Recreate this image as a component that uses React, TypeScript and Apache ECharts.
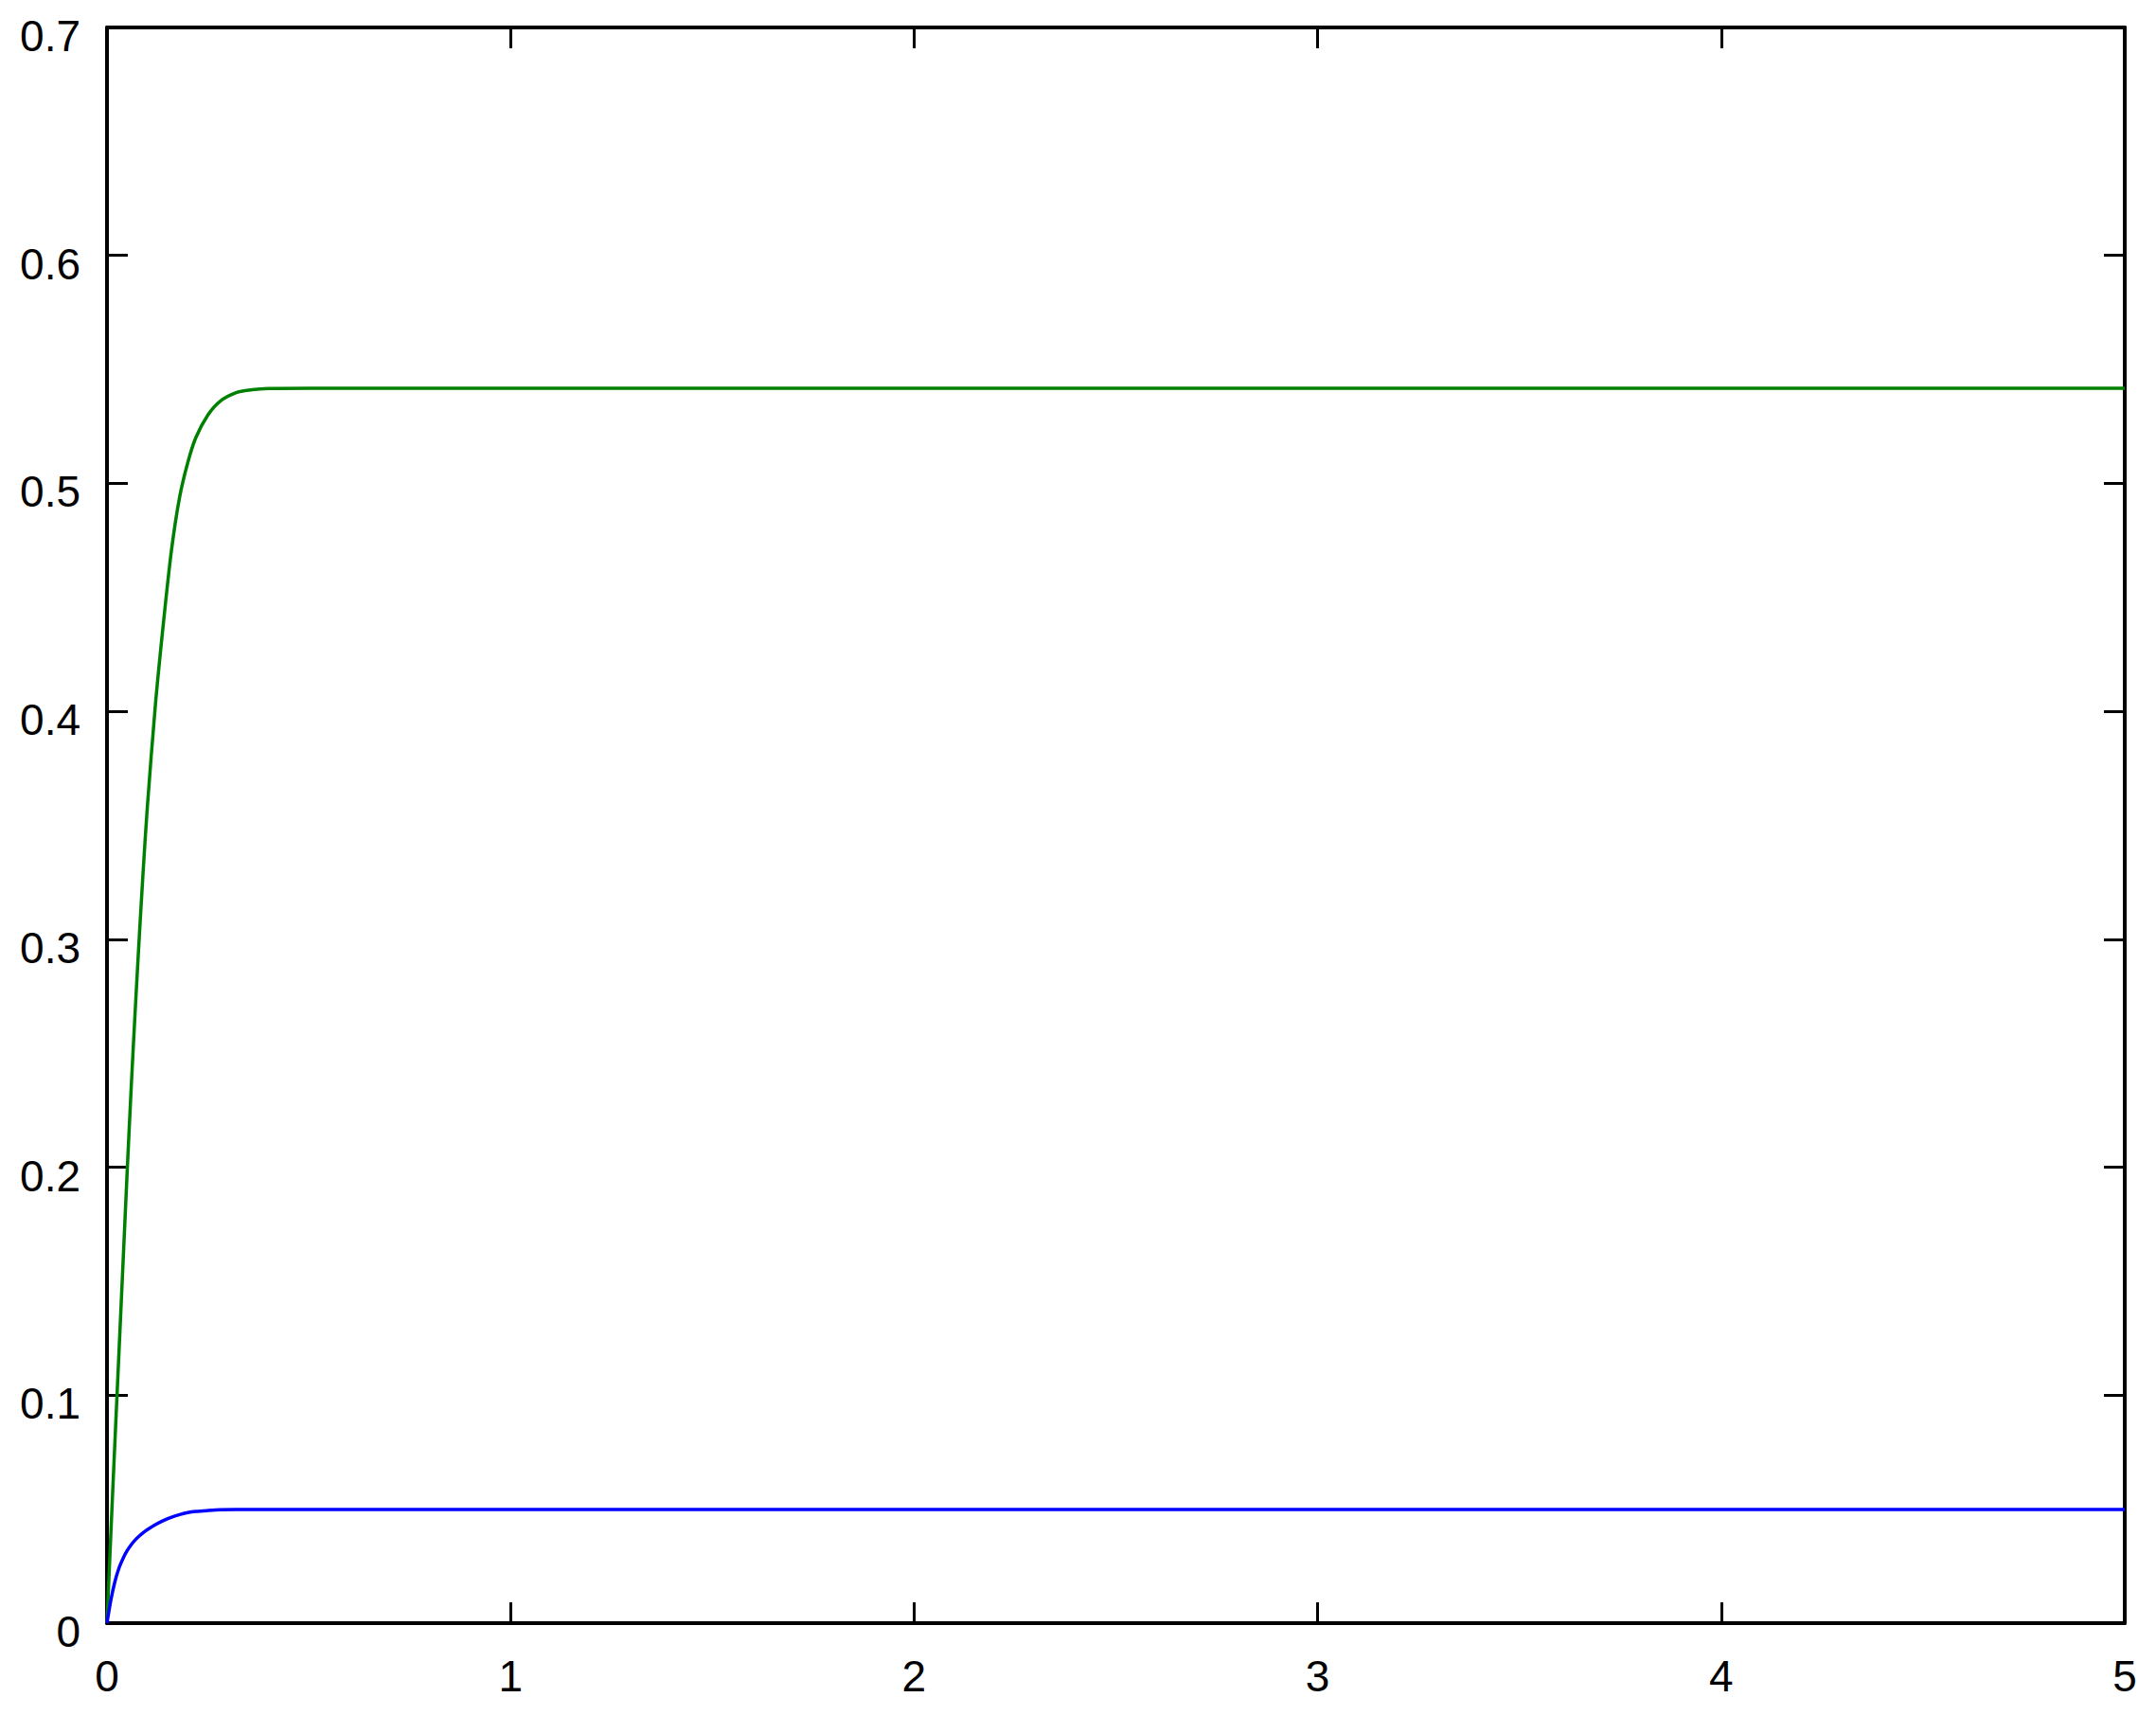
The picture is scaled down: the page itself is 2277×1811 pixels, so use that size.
import React, { useEffect, useRef } from 'react';
import * as echarts from 'echarts';

const timeSteps = [
  0, 0.01, 0.02, 0.03, 0.04, 0.05, 0.06, 0.07, 0.08, 0.09, 0.1, 0.12, 0.14, 0.16, 0.18, 0.2,
  0.22, 0.25, 0.28, 0.32, 0.36, 0.4, 0.5, 1, 2, 3, 4, 5,
];
const greenResponse = [
  0, 0.041, 0.081, 0.12, 0.159, 0.198, 0.235, 0.269, 0.301, 0.331, 0.358, 0.403, 0.439, 0.471,
  0.494, 0.509, 0.52, 0.53, 0.536, 0.5398, 0.5411, 0.5416, 0.5417, 0.5417, 0.5417, 0.5417,
  0.5417, 0.5417,
];
const blueResponse = [
  0, 0.0105, 0.0185, 0.0243, 0.0285, 0.0318, 0.0344, 0.0365, 0.0382, 0.0397, 0.041, 0.0432,
  0.045, 0.0465, 0.0476, 0.0485, 0.049, 0.0494, 0.0497, 0.0498, 0.0498, 0.0498, 0.0498, 0.0498,
  0.0498, 0.0498, 0.0498, 0.0498,
];
const xRange = [0, 5];
const xStep = 1;
const yRange = [0, 0.7];
const yStep = 0.1;

const FONT = 'Liberation Sans, Arial, sans-serif';

const ResponseChart: React.FC = () => {
  const chartRef = useRef<HTMLDivElement>(null);

  useEffect(() => {
    if (!chartRef.current) return;
    const chart = echarts.init(chartRef.current, undefined, { renderer: 'svg' });

    const axisLine = { show: true, onZero: false, lineStyle: { color: '#000', width: 4 } };
    const axisTick = { show: true, inside: true, length: 22, lineStyle: { color: '#000', width: 3 } };

    const xBase = {
      type: 'value' as const,
      min: xRange[0],
      max: xRange[1],
      interval: xStep,
      axisLine,
      axisTick,
      splitLine: { show: false },
    };
    const yBase = {
      type: 'value' as const,
      min: yRange[0],
      max: yRange[1],
      interval: yStep,
      axisLine,
      axisTick,
      splitLine: { show: false },
    };

    chart.setOption({
      animation: false,
      backgroundColor: '#fff',
      grid: { left: 113, right: 33, top: 29, bottom: 97 },
      xAxis: [
        {
          ...xBase,
          position: 'bottom',
          axisLabel: { color: '#000', fontSize: 46, fontFamily: FONT, margin: 33 },
        },
        { ...xBase, position: 'top', axisLabel: { show: false } },
      ],
      yAxis: [
        {
          ...yBase,
          position: 'left',
          axisLabel: {
            color: '#000',
            fontSize: 46,
            fontFamily: FONT,
            margin: 28,
            verticalAlign: 'top',
            lineHeight: 18,
          },
        },
        { ...yBase, position: 'right', axisLabel: { show: false } },
      ],
      series: [
        {
          type: 'line',
          data: timeSteps.map((t, i) => [t, greenResponse[i]]),
          showSymbol: false,
          smooth: 0.3,
          lineStyle: { color: '#008000', width: 3.5 },
          z: 3,
        },
        {
          type: 'line',
          data: timeSteps.map((t, i) => [t, blueResponse[i]]),
          showSymbol: false,
          smooth: 0.3,
          lineStyle: { color: '#0000ff', width: 3.5 },
          z: 3,
        },
      ],
    });

    return () => {
      chart.dispose();
    };
  }, []);

  return (
    <div
      ref={chartRef}
      style={{ position: 'absolute', left: 0, top: 0, width: '2277px', height: '1811px' }}
    />
  );
};

export default function App() {
  return <ResponseChart />;
}
